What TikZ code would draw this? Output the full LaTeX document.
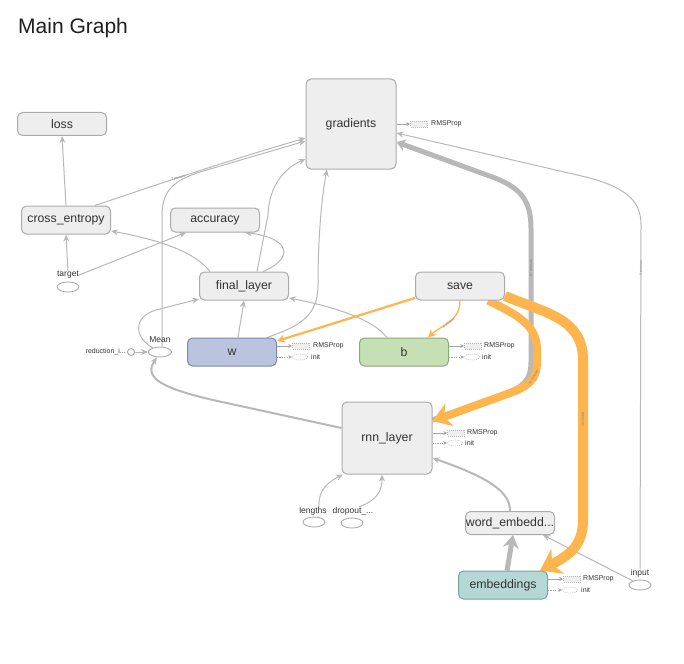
\documentclass[tikz,border=0pt]{standalone}
\usepackage{fontspec}
\setmainfont{Liberation Sans}
\usetikzlibrary{arrows.meta,shapes.geometric,backgrounds}
\definecolor{nodefill}{HTML}{EEEEEE}
\definecolor{nodeline}{HTML}{ABABAB}
\definecolor{labeltext}{HTML}{333333}
\definecolor{edgegray}{HTML}{B8B8B8}
\definecolor{saveorange}{HTML}{FFB54D}
\definecolor{wfill}{HTML}{BAC4DF}
\definecolor{wline}{HTML}{7D89AA}
\definecolor{bfill}{HTML}{C5E0B4}
\definecolor{bline}{HTML}{8EA67C}
\definecolor{efill}{HTML}{B5D8D6}
\definecolor{eline}{HTML}{7BA3A1}
\begin{document}
\begin{tikzpicture}[x=1pt,y=-1pt,
  opbox/.style={draw=nodeline, fill=nodefill, line width=1pt, rounded corners=5pt,
    minimum width=89pt, minimum height=28pt, inner sep=0pt, text=labeltext,
    font=\fontsize{12.3}{14}\selectfont},
  opval/.style={draw=nodeline, fill=white, ellipse, minimum width=22pt,
    minimum height=10pt, inner sep=0pt, line width=0.9pt},
  smalllbl/.style={text=labeltext, font=\fontsize{8.5}{9}\selectfont, inner sep=0pt},
  edge/.style={draw=edgegray, line width=1pt, -{Stealth[length=7pt,width=6pt]}},
  orangeedge/.style={draw=saveorange, -{Stealth[length=8pt,width=8pt]}},
  elabel/.style={font=\fontsize{3.5}{4}\selectfont, text=gray, sloped, inner sep=0.5pt},
  auxbox/.style={draw=edgegray, fill=nodefill, minimum width=17pt, minimum height=6pt,
    inner sep=0pt, line width=0.6pt, dash pattern=on 1pt off 1pt},
  auxinit/.style={draw=edgegray, fill=white, ellipse, minimum width=15pt,
    minimum height=6pt, inner sep=0pt, line width=0.6pt, dash pattern=on 1pt off 1pt},
  auxlbl/.style={font=\fontsize{7}{8}\selectfont, text=labeltext, inner sep=0pt, anchor=west},
  auxedge/.style={draw=gray!70, line width=0.8pt, -{Stealth[length=4pt,width=4pt]}},
  auxdash/.style={auxedge, dash pattern=on 1.2pt off 1.2pt}
]
\useasboundingbox (0,0) rectangle (684,663);

% title
\node[anchor=west, font=\fontsize{21}{24}\selectfont, text=black!88, inner sep=0pt] (title) at (18,28) {Main Graph};

% operation boxes
\node[opbox, minimum height=23pt] (loss) at (62,124) {loss};
\node[opbox] (cross) at (66,220) {cross\_entropy};
\node[opbox, minimum height=24pt] (acc) at (215,220) {accuracy};
\node[opbox, minimum width=90pt, minimum height=90pt] (grad) at (351,124) {gradients};
\node[opbox] (final) at (244,286) {final\_layer};
\node[opbox] (save) at (460,286) {save};
\node[opbox, fill=wfill, draw=wline] (w) at (232,352) {w};
\node[opbox, fill=bfill, draw=bline] (b) at (404,352) {b};
\node[opbox, minimum width=90pt, minimum height=72pt] (rnn) at (387,438) {rnn\_layer};
\node[opbox, minimum height=23pt] (wemb) at (510,523) {word\_embedd...};
\node[opbox, fill=efill, draw=eline] (emb) at (503,585) {embeddings};

% small value nodes
\node[opval] (targetop) at (68,287) {};
\node[smalllbl] (targetlbl) at (68,275) {target};
\node[opval, minimum width=23pt] (meanop) at (160,352) {};
\node[smalllbl] (meanlbl) at (160,340) {Mean};
\node[smalllbl, font=\fontsize{7}{8}\selectfont, anchor=east] (redlbl) at (126,352) {reduction\_i...};
\node[circle, draw=nodeline, fill=white, minimum size=7pt, inner sep=0pt, line width=0.9pt] (redop) at (131,352) {};
\node[opval] (lenop) at (314,522) {};
\node[smalllbl] (lenlbl) at (313,511) {lengths};
\node[opval] (dropop) at (352,523) {};
\node[smalllbl] (droplbl) at (353,511) {dropout\_...};
\node[opval] (inputop) at (640,585) {};
\node[smalllbl] (inputlbl) at (640,573) {input};

% optimizer / init stubs
\node[auxbox] (gradrms) at (419,124) {};
\node[auxlbl] (gradrmslbl) at (431,124) {RMSProp};
\node[auxbox] (wrms) at (301,346) {};
\node[auxlbl] (wrmslbl) at (313,346) {RMSProp};
\node[auxinit] (winit) at (300,357) {};
\node[auxlbl] (winitlbl) at (311,357) {init};
\node[auxbox] (brms) at (473,346) {};
\node[auxlbl] (brmslbl) at (484,346) {RMSProp};
\node[auxinit] (binit) at (472,357) {};
\node[auxlbl] (binitlbl) at (482,357) {init};
\node[auxbox] (rnnrms) at (456,433) {};
\node[auxlbl] (rnnrmslbl) at (467,433) {RMSProp};
\node[auxinit] (rnninit) at (455,443) {};
\node[auxlbl] (rnninitlbl) at (465,443) {init};
\node[auxbox] (embrms) at (572,579) {};
\node[auxlbl] (embrmslbl) at (583,579) {RMSProp};
\node[auxinit] (embinit) at (570,590) {};
\node[auxlbl] (embinitlbl) at (581,590) {init};

\begin{scope}[on background layer]
\fill[white] (0,0) rectangle (684,663);

% stub connectors
\draw[auxedge] (grad.east) -- (gradrms.west);
\draw[auxedge] ([yshift=6pt]w.east) -- (wrms.west);
\draw[auxdash] ([yshift=-5pt]w.east) -- (winit.west);
\draw[auxedge] ([yshift=6pt]b.east) -- (brms.west);
\draw[auxdash] ([yshift=-5pt]b.east) -- (binit.west);
\draw[auxedge] ([yshift=5pt]rnn.east) -- (rnnrms.west);
\draw[auxdash] ([yshift=-5pt]rnn.east) -- (rnninit.west);
\draw[auxedge] ([yshift=6pt]emb.east) -- (embrms.west);
\draw[auxdash] ([yshift=-5pt]emb.east) -- (embinit.west);

% loss / accuracy side
\draw[edge] (cross.north) -- (loss.south);
\draw[edge] (targetlbl.north) -- (cross.south);
\draw[edge] (targetlbl.east) -- ([xshift=-29pt]acc.south);
\draw[edge] ([xshift=29pt]cross.north) .. controls (150,187) and (220,163) .. ([yshift=-14pt]grad.west)
  node[elabel, pos=0.45] {2 tensors};
\draw[edge] ([xshift=2pt]meanop.north) -- (162,215) .. controls (162,190) and (175,180) .. (200,172)
  -- ([yshift=-17pt]grad.west);
\draw[edge] ([xshift=13pt]final.north) -- (268,215) .. controls (269,185) and (285,168) .. ([yshift=-35pt]grad.west);
\draw[edge] ([xshift=19pt]final.north) .. controls (295,258) and (290,238) .. ([xshift=30pt]acc.south);
\draw[edge] ([xshift=-34pt]final.north) .. controls (195,252) and (160,240) .. ([yshift=-11pt]cross.east);

% w, b, Mean into final_layer / gradients
\draw[edge] ([xshift=6pt]w.north) -- (final.south);
\draw[edge] ([xshift=35pt]w.north) .. controls (300,326) and (318,316) .. (318,285)
  .. controls (318,235) and (322,195) .. ([xshift=-24pt]grad.south);
\draw[edge] ([xshift=-17pt]b.north) .. controls (372,318) and (330,306) .. ([yshift=-12pt]final.east);
\draw[edge] (redop.east) -- (meanop.west);
\draw[edge] (meanop.150) .. controls (132,336) and (134,314) .. (160,309) -- ([yshift=-13pt]final.west);
\draw[edge, line width=2pt] ([yshift=10pt]rnn.west) -- (222,402) .. controls (162,389) and (143,378) .. (meanop.-120);

% rnn_layer inputs
\draw[edge, line width=2pt] (wemb.north) .. controls (510,492) and (490,478) .. ([yshift=-20pt]rnn.east);
\draw[edge] ([xshift=6pt]lenlbl.north) .. controls (318,490) and (328,482) .. ([xshift=-44pt]rnn.south);
\draw[edge] ([xshift=6pt]droplbl.north) .. controls (378,500) and (382,490) .. ([xshift=-5pt]rnn.south);
\draw[edgegray, line width=5pt, -{Stealth[length=13pt,width=16pt]}] ([xshift=4pt]emb.north) -- ([xshift=3pt]wemb.south);
\draw[edge] (inputop.150) -- ([xshift=33pt]wemb.south);

% long connectors into gradients
\draw[edgegray, line width=5pt, -{Stealth[length=9pt,width=12pt]}] ([yshift=18pt]rnn.east)
  -- (505,394) .. controls (524,386) and (531,380) .. (531,362)
  -- node[elabel, pos=0.7] {57 tensors} (531,228)
  .. controls (531,200) and (520,188) .. (495,178) -- ([yshift=-18pt]grad.east);
\draw[edge] (inputlbl.north) -- node[elabel, pos=0.875] {2 tensors} (641,225)
  .. controls (641,200) and (625,188) .. (590,178) -- ([yshift=-9pt]grad.east);

% save connectors
\draw[orangeedge, line width=2.2pt] ([yshift=-12pt]save.west) -- ([yshift=11pt]w.east);
\draw[orangeedge, line width=1.3pt] (save.south) .. controls (460,322) and (440,326) .. ([xshift=24pt]b.north)
  node[elabel, pos=0.5] {4 tensors};
\draw[saveorange, line width=8pt, -{Stealth[length=18pt,width=24pt]}] ([xshift=28pt]save.south)
  .. controls (520,316) and (537,326) .. (537,350) -- (537,362)
  .. controls (537,380) and (528,386) .. node[elabel, pos=0.35] {17 tensors} (510,393)
  -- ([yshift=17pt]rnn.east);
\draw[saveorange, line width=10pt, -{Stealth[length=20pt,width=28pt]}] ([yshift=-10pt]save.east)
  .. controls (545,313) and (583,318) .. (583,360)
  -- node[elabel, pos=0.37] {8 tensors} (583,520)
  .. controls (583,545) and (570,555) .. ([xshift=37pt]emb.north);
\end{scope}
\end{tikzpicture}
\end{document}
